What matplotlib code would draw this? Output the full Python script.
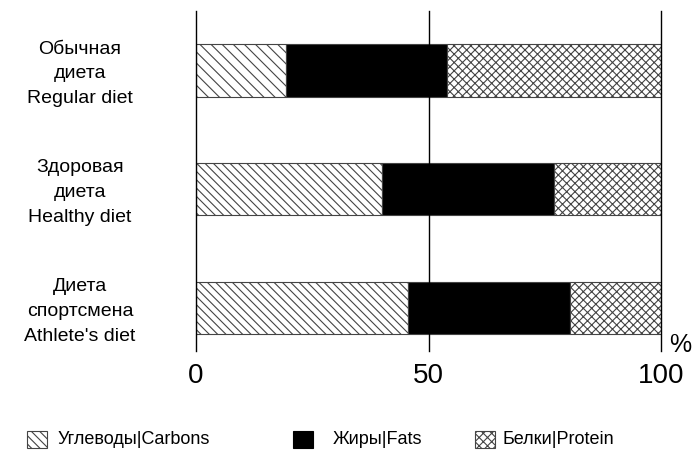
import matplotlib
matplotlib.use("Agg")
import matplotlib.pyplot as plt
from matplotlib.patches import Rectangle
import matplotlib.transforms as mtransforms

categories = ["Обычная\nдиета\nRegular diet", "Здоровая\nдиета\nHealthy diet", "Диета\nспортсмена\nAthlete's diet"]
carbs = [19.4, 40.0, 45.5]
fats = [34.6, 37.0, 34.9]
protein = [46.0, 23.0, 19.6]
series_names = ["Углеводы|Carbons", "Жиры|Fats", "Белки|Protein"]
xticks = [0, 50, 100]

plt.rcParams['font.family'] = ['Liberation Sans', 'DejaVu Sans']
plt.rcParams['hatch.color'] = '#555555'
plt.rcParams['hatch.linewidth'] = 0.8

W, H = 692, 452
fig = plt.figure(figsize=(W/100, H/100), dpi=100)
ax = fig.add_axes([196/W, 1-352/H, (661-196)/W, 340/H])

y = list(range(len(categories)))
h = 0.44
left2 = [a + b for a, b in zip(carbs, fats)]
hatches_c = ['\\\\\\', '\\\\\\\\', '\\\\\\\\']
for i in y:
    ax.barh(i, carbs[i], height=h, color='white', edgecolor='#444444', hatch=hatches_c[i], linewidth=0.8, zorder=3)
ax.barh(y, fats, left=carbs, height=h, color='black', edgecolor='#444444', linewidth=0.8, zorder=3)
ax.barh(y, protein, left=left2, height=h, color='white', edgecolor='#444444', hatch='xxxx', linewidth=0.8, zorder=3)

for xv in xticks:
    ax.axvline(xv, color='black', lw=1.0, zorder=4 if xv == 50 else 5, clip_on=False)

ax.set_xlim(0, 100)
ax.set_ylim(2.36, -0.5)
for s in ax.spines.values():
    s.set_visible(False)
ax.set_yticks([])
ax.set_xticks(xticks)
ax.set_xticklabels([str(v) for v in xticks], fontsize=20)
ax.tick_params(axis='x', length=0, pad=8)

trans = mtransforms.blended_transform_factory(fig.transFigure, ax.transData)
for i, c in enumerate(categories):
    ax.text(80/W, i + 0.02, c, transform=trans, ha='center', va='center',
            fontsize=14, multialignment='center', linespacing=1.6)

fig.text(680/W, 1-345/H, '%', fontsize=18, ha='center', va='center')

# legend (manual placement)
leg_x = [27, 293, 475]
txt_x = [58, 333, 502]
leg_h = ['\\\\\\\\', None, 'xxxx']
leg_fc = ['white', 'black', 'white']
for lx, tx, hh, fc, name in zip(leg_x, txt_x, leg_h, leg_fc, series_names):
    r = Rectangle((lx/W, 1-449/H), 20/W, 17/H, transform=fig.transFigure,
                  facecolor=fc, edgecolor='#444444' if fc == 'white' else 'black',
                  hatch=hh, linewidth=0.8)
    fig.add_artist(r)
    fig.text(tx/W, 1-440/H, name, fontsize=13, ha='left', va='center')

fig.savefig('out.png', dpi=100)
